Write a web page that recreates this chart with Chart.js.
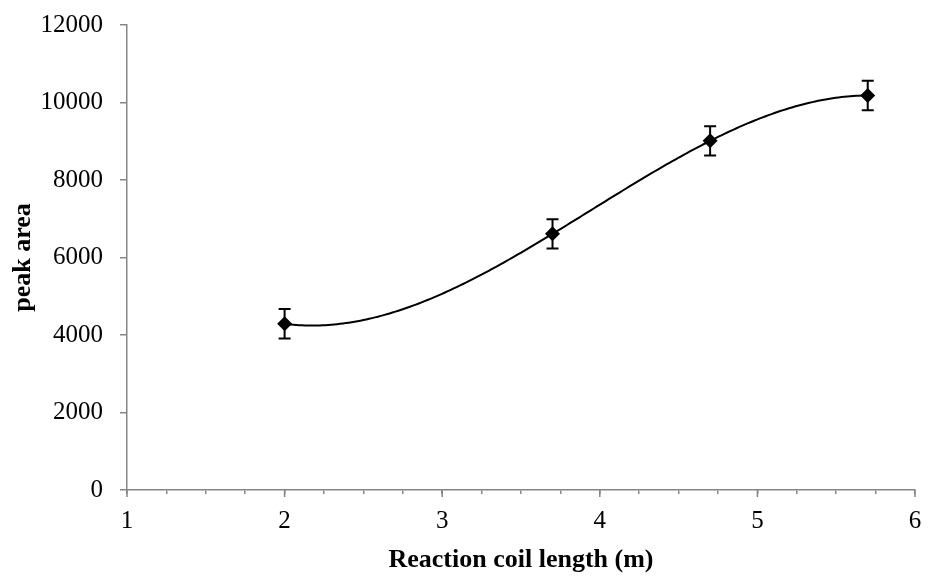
<!DOCTYPE html>
<html>
<head>
<meta charset="utf-8">
<script src="https://cdn.jsdelivr.net/npm/chart.js@4"></script>
<style>
html, body { margin: 0; padding: 0; background: #fff; }
</style>
</head>
<body>
<canvas id="grafico" width="928" height="579"></canvas>
<script>
// valores
const longitud = [2, 3.7, 4.7, 5.7];
const area = [4290, 6610, 9010, 10180];
const errorArea = [380, 380, 380, 380];
const ticksX = [1, 2, 3, 4, 5, 6];
const ticksY = [0, 2000, 4000, 6000, 8000, 10000, 12000];
const ordenTendencia = 3;

const gris = "#868686";
const fuente = "'Liberation Serif', 'Times New Roman', serif";

// ajuste polinomico (minimos cuadrados) para la linea de tendencia
function ajustePolinomio(xs, ys, orden) {
	const n = orden + 1;
	const m = [];
	for (let r = 0; r < n; r++) {
		m.push([]);
		for (let c = 0; c < n; c++) {
			let s = 0;
			for (let k = 0; k < xs.length; k++) s += Math.pow(xs[k], r + c);
			m[r].push(s);
		}
		let b = 0;
		for (let k = 0; k < xs.length; k++) b += ys[k] * Math.pow(xs[k], r);
		m[r].push(b);
	}
	for (let i = 0; i < n; i++) {
		let p = i;
		for (let r = i + 1; r < n; r++) if (Math.abs(m[r][i]) > Math.abs(m[p][i])) p = r;
		[m[i], m[p]] = [m[p], m[i]];
		for (let r = 0; r < n; r++) {
			if (r === i) continue;
			const f = m[r][i] / m[i][i];
			for (let c = i; c <= n; c++) m[r][c] -= f * m[i][c];
		}
	}
	return m.map((fila, i) => fila[n] / fila[i]);
}
const coef = ajustePolinomio(longitud, area, ordenTendencia);
function tendencia(x) {
	let y = 0;
	for (let i = 0; i < coef.length; i++) y += coef[i] * Math.pow(x, i);
	return y;
}

// linea de tendencia dibujada con las escalas
const lineaTendencia = {
	id: "lineaTendencia",
	beforeDatasetsDraw: function (chart) {
		const ctx = chart.ctx;
		const sx = chart.scales.x;
		const sy = chart.scales.y;
		const x0 = Math.min(...longitud);
		const x1 = Math.max(...longitud);
		const pasos = 200;
		ctx.save();
		ctx.strokeStyle = "#000";
		ctx.lineWidth = 2;
		ctx.lineJoin = "round";
		ctx.beginPath();
		for (let i = 0; i <= pasos; i++) {
			const x = x0 + ((x1 - x0) * i) / pasos;
			const px = sx.getPixelForValue(x);
			const py = sy.getPixelForValue(tendencia(x));
			if (i === 0) ctx.moveTo(px, py);
			else ctx.lineTo(px, py);
		}
		ctx.stroke();
		ctx.restore();
	},
};

// barras de error con caps
const barrasError = {
	id: "barrasError",
	afterDatasetsDraw: function (chart) {
		const ctx = chart.ctx;
		const sx = chart.scales.x;
		const sy = chart.scales.y;
		ctx.save();
		ctx.strokeStyle = "#000";
		ctx.lineWidth = 2;
		for (let i = 0; i < longitud.length; i++) {
			const px = sx.getPixelForValue(longitud[i]);
			const arriba = sy.getPixelForValue(area[i] + errorArea[i]);
			const abajo = sy.getPixelForValue(area[i] - errorArea[i]);
			ctx.beginPath();
			ctx.moveTo(px, arriba);
			ctx.lineTo(px, abajo);
			ctx.moveTo(px - 6, arriba);
			ctx.lineTo(px + 6, arriba);
			ctx.moveTo(px - 6, abajo);
			ctx.lineTo(px + 6, abajo);
			ctx.stroke();
		}
		ctx.restore();
	},
};

// las marcas mayores del eje x son un poco mas largas
const marcasMayores = {
	id: "marcasMayores",
	afterDraw: function (chart) {
		const ctx = chart.ctx;
		const sx = chart.scales.x;
		ctx.save();
		ctx.strokeStyle = gris;
		ctx.lineWidth = 1.5;
		ctx.beginPath();
		for (const v of ticksX) {
			const px = sx.getPixelForValue(v);
			ctx.moveTo(px, sx.top);
			ctx.lineTo(px, sx.top + 7);
		}
		ctx.stroke();
		ctx.restore();
	},
};

const datos = {
	datasets: [
		{
			label: "peak area",
			data: longitud.map((x, i) => ({ x: x, y: area[i] })),
			showLine: false,
			pointStyle: "rectRot",
			pointRadius: 7.5,
			pointBackgroundColor: "#000",
			pointBorderWidth: 0,
		},
	],
};

const config = {
	type: "scatter",
	data: datos,
	options: {
		responsive: false,
		animation: false,
		layout: { padding: { top: 25, right: 13, left: 0, bottom: 0 } },
		plugins: { legend: { display: false }, tooltip: { enabled: false } },
		scales: {
			x: {
				type: "linear",
				min: 1,
				max: 6,
				afterFit: function (s) {
					s.height = 89;
					s.paddingLeft = 0;
					s.paddingRight = 0;
				},
				ticks: {
					stepSize: 0.25,
					autoSkip: false,
					maxRotation: 0,
					padding: 12,
					color: "#000",
					font: { family: fuente, size: 25 },
					callback: (v) => (ticksX.includes(v) ? String(v) : ""),
				},
				grid: { drawOnChartArea: false, tickLength: 4, color: gris, lineWidth: 1.5 },
				border: { color: gris, width: 1.5 },
				title: {
					display: true,
					text: "Reaction coil length (m)",
					color: "#000",
					font: { family: fuente, size: 26, weight: "bold" },
					padding: { top: 0, bottom: 3 },
				},
			},
			y: {
				min: 0,
				max: 12000,
				afterFit: function (s) {
					s.width = 127;
					s.paddingTop = 0;
					s.paddingBottom = 0;
				},
				ticks: {
					stepSize: 2000,
					padding: 17,
					color: "#000",
					font: { family: fuente, size: 25 },
					callback: (v) => (ticksY.includes(v) ? String(v) : ""),
				},
				grid: { drawOnChartArea: false, tickLength: 7, color: gris, lineWidth: 1.5 },
				border: { color: gris, width: 1.5 },
				title: {
					display: true,
					text: "peak area",
					color: "#000",
					font: { family: fuente, size: 26, weight: "bold" },
					padding: { top: 8, bottom: 0 },
				},
			},
		},
	},
	plugins: [lineaTendencia, barrasError, marcasMayores],
};

const grafico = new Chart(document.getElementById("grafico"), config);
</script>
</body>
</html>
